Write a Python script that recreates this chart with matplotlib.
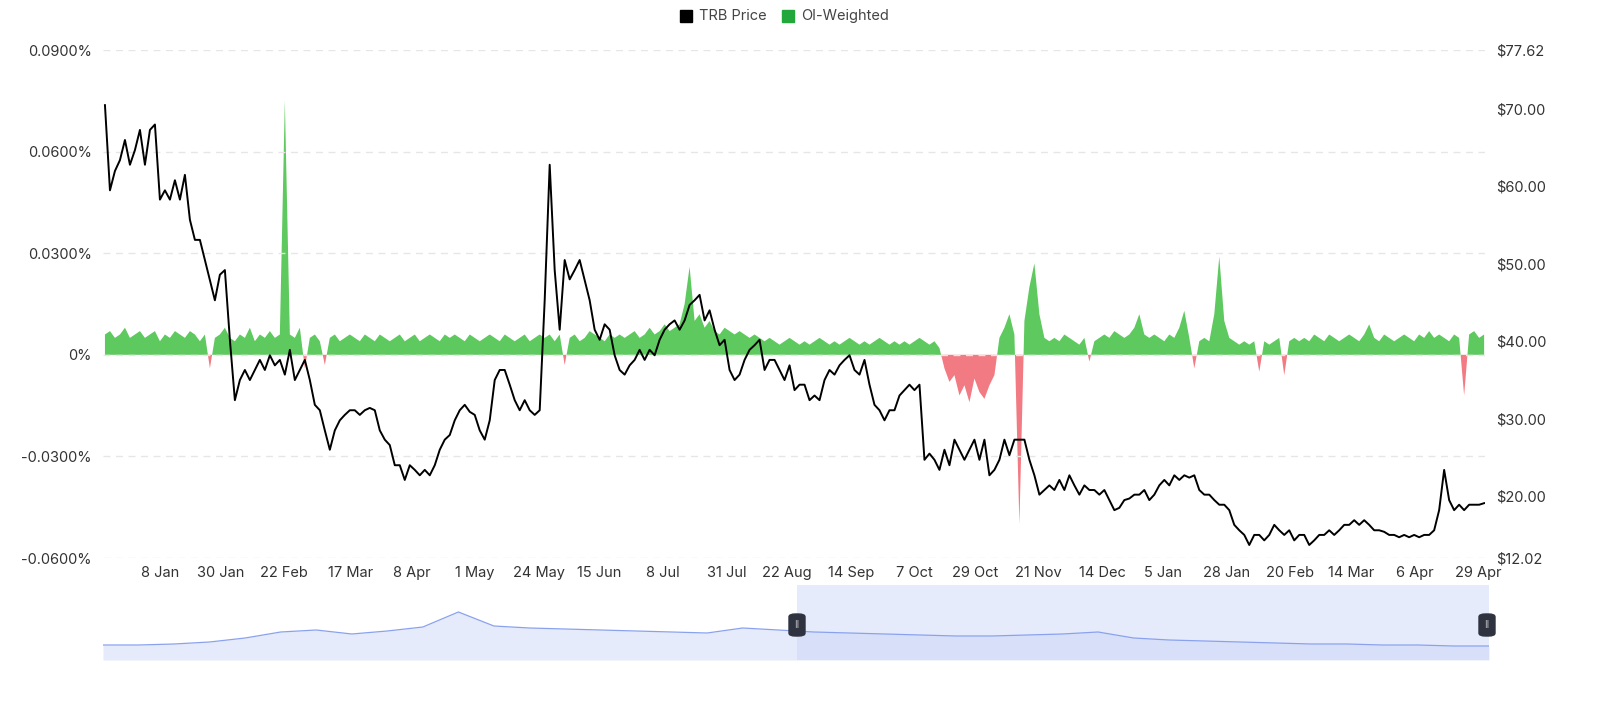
import numpy as np
import pandas as pd
from matplotlib import pyplot as plt
from matplotlib.patches import FancyBboxPatch, Rectangle
import matplotlib.ticker as mticker

# TRB price, sampled every ~1.8 days from mid Dec 2023
price = [
    70.5, 59.5, 62, 63.4, 66, 62.8, 64.7, 67.3, 62.8, 67.3,
    68, 58.3, 59.5, 58.3, 60.8, 58.3, 61.5, 55.7, 53.1, 53.1,
    50.5, 47.9, 45.3, 48.6, 49.2, 40.2, 32.4, 35, 36.3, 35,
    36.3, 37.6, 36.3, 38.2, 36.9, 37.6, 35.7, 38.9, 35, 36.3,
    37.6, 35, 31.8, 31.1, 28.5, 26, 28.5, 29.8, 30.5, 31.1,
    31.1, 30.5, 31.1, 31.4, 31.1, 28.5, 27.3, 26.6, 24, 24,
    22.1, 24, 23.4, 22.7, 23.4, 22.7, 24, 26, 27.3, 27.9,
    29.8, 31.1, 31.8, 30.9, 30.5, 28.5, 27.3, 29.8, 35, 36.3,
    36.3, 34.4, 32.4, 31.1, 32.4, 31.1, 30.5, 31.1, 45.3, 62.8,
    49.2, 41.5, 50.5, 48, 49.2, 50.5, 47.9, 45.3, 41.5, 40.2,
    42.2, 41.5, 38.2, 36.3, 35.7, 36.9, 37.6, 38.9, 37.6, 38.9,
    38.2, 40.2, 41.5, 42.2, 42.7, 41.5, 42.7, 44.7, 45.3, 46,
    42.7, 44, 41.5, 39.5, 40.2, 36.3, 35, 35.7, 37.6, 38.9,
    39.5, 40.2, 36.3, 37.6, 37.6, 36.3, 35, 36.9, 33.7, 34.4,
    34.4, 32.4, 33, 32.4, 35, 36.3, 35.7, 36.9, 37.6, 38.2,
    36.3, 35.7, 37.6, 34.4, 31.8, 31.1, 29.8, 31.1, 31.1, 33,
    33.7, 34.4, 33.7, 34.4, 24.7, 25.5, 24.7, 23.4, 26, 24,
    27.3, 26, 24.7, 26, 27.3, 24.7, 27.3, 22.7, 23.4, 24.7,
    27.3, 25.3, 27.3, 27.3, 27.3, 24.7, 22.7, 20.2, 20.8, 21.4,
    20.8, 22.1, 20.8, 22.7, 21.4, 20.2, 21.4, 20.8, 20.8, 20.2,
    20.8, 19.5, 18.2, 18.5, 19.5, 19.7, 20.2, 20.2, 20.8, 19.5,
    20.2, 21.4, 22.1, 21.4, 22.7, 22.1, 22.7, 22.4, 22.7, 20.8,
    20.2, 20.2, 19.5, 18.9, 18.9, 18.2, 16.3, 15.6, 15, 13.7,
    15, 15, 14.3, 15, 16.3, 15.6, 15, 15.6, 14.3, 15,
    15, 13.7, 14.3, 15, 15, 15.6, 15, 15.6, 16.3, 16.3,
    16.9, 16.3, 16.9, 16.3, 15.6, 15.6, 15.4, 15, 15, 14.7,
    15, 14.7, 15, 14.7, 15, 15, 15.6, 18.2, 23.4, 19.5,
    18.2, 18.9, 18.2, 18.9, 18.9, 18.9, 19.1,
]

# OI-weighted funding rate (%) on the same dates
funding = [
    0.006, 0.007, 0.005, 0.006, 0.008, 0.005, 0.006, 0.007, 0.005, 0.006,
    0.007, 0.004, 0.006, 0.005, 0.007, 0.006, 0.005, 0.007, 0.006, 0.004,
    0.006, -0.004, 0.005, 0.006, 0.008, 0.005, 0.004, 0.006, 0.005, 0.008,
    0.004, 0.006, 0.005, 0.007, 0.005, 0.006, 0.075, 0.006, 0.005, 0.008,
    -0.004, 0.005, 0.006, 0.004, -0.003, 0.005, 0.006, 0.004, 0.005, 0.006,
    0.005, 0.004, 0.006, 0.005, 0.004, 0.006, 0.005, 0.004, 0.005, 0.006,
    0.004, 0.005, 0.006, 0.004, 0.005, 0.006, 0.005, 0.004, 0.006, 0.005,
    0.006, 0.005, 0.004, 0.006, 0.005, 0.004, 0.005, 0.006, 0.005, 0.004,
    0.006, 0.005, 0.004, 0.005, 0.006, 0.004, 0.005, 0.006, 0.005, 0.006,
    0.004, 0.006, -0.003, 0.005, 0.006, 0.004, 0.005, 0.007, 0.006, 0.005,
    0.004, 0.006, 0.005, 0.006, 0.005, 0.006, 0.007, 0.005, 0.006, 0.008,
    0.006, 0.007, 0.009, 0.007, 0.008, 0.009, 0.015, 0.026, 0.010, 0.012,
    0.008, 0.010, 0.007, 0.006, 0.008, 0.007, 0.006, 0.007, 0.006, 0.005,
    0.006, 0.005, 0.004, 0.005, 0.004, 0.003, 0.004, 0.005, 0.004, 0.003,
    0.004, 0.003, 0.004, 0.005, 0.004, 0.003, 0.004, 0.003, 0.004, 0.005,
    0.004, 0.003, 0.004, 0.003, 0.004, 0.005, 0.004, 0.003, 0.004, 0.003,
    0.004, 0.003, 0.004, 0.005, 0.004, 0.003, 0.004, 0.002, -0.004, -0.008,
    -0.006, -0.012, -0.009, -0.014, -0.007, -0.011, -0.013, -0.009, -0.006, 0.005,
    0.008, 0.012, 0.006, -0.050, 0.010, 0.020, 0.027, 0.012, 0.005, 0.004,
    0.005, 0.004, 0.006, 0.005, 0.004, 0.003, 0.005, -0.002, 0.004, 0.005,
    0.006, 0.005, 0.007, 0.006, 0.005, 0.006, 0.008, 0.012, 0.006, 0.005,
    0.006, 0.005, 0.004, 0.006, 0.005, 0.008, 0.013, 0.005, -0.004, 0.004,
    0.005, 0.004, 0.012, 0.029, 0.010, 0.005, 0.004, 0.003, 0.004, 0.003,
    0.004, -0.005, 0.004, 0.003, 0.004, 0.005, -0.006, 0.004, 0.005, 0.004,
    0.005, 0.004, 0.006, 0.005, 0.004, 0.006, 0.005, 0.004, 0.005, 0.006,
    0.005, 0.004, 0.006, 0.009, 0.005, 0.004, 0.006, 0.005, 0.004, 0.005,
    0.006, 0.005, 0.004, 0.006, 0.005, 0.007, 0.005, 0.006, 0.005, 0.004,
    0.006, 0.005, -0.012, 0.006, 0.007, 0.005, 0.006,
]

# navigator overview series (full history)
nav_values = [15, 15, 16, 18, 22, 28, 30, 26, 29, 33, 48, 34, 32, 31, 30, 29, 28, 27, 32, 30,
              28, 27, 26, 25, 24, 24, 25, 26, 28, 22, 20, 19, 18, 17, 16, 16, 15, 15, 14, 14]

tick_labels = ["8 Jan", "30 Jan", "22 Feb", "17 Mar", "8 Apr", "1 May", "24 May", "15 Jun",
               "8 Jul", "31 Jul", "22 Aug", "14 Sep", "7 Oct", "29 Oct", "21 Nov", "14 Dec",
               "5 Jan", "28 Jan", "20 Feb", "14 Mar", "6 Apr", "29 Apr"]
tick_dates = ["2024-01-08", "2024-01-30", "2024-02-22", "2024-03-17", "2024-04-08", "2024-05-01",
              "2024-05-24", "2024-06-15", "2024-07-08", "2024-07-31", "2024-08-22", "2024-09-14",
              "2024-10-07", "2024-10-29", "2024-11-21", "2024-12-14", "2025-01-05", "2025-01-28",
              "2025-02-20", "2025-03-14", "2025-04-06", "2025-04-29"]

plt.rcParams["font.family"] = ["Inter", "DejaVu Sans"]

start = pd.Timestamp("2023-12-18 09:00")
end = pd.Timestamp("2025-05-01 12:00")
dates = pd.date_range(start + pd.Timedelta(hours=17), periods=len(price), freq="43.4h")
fund = np.array(funding)

fig = plt.figure(figsize=(16, 7.13), dpi=100)
W, H = 1600, 713
ax = fig.add_axes([103 / W, 1 - 558 / H, (1485 - 103) / W, (558 - 50) / H])
ax2 = ax.twinx()

green, red = "#5ec95e", "#f27a82"
ax.fill_between(dates, 0, fund, where=fund >= 0, interpolate=True, color=green, lw=0)
ax.fill_between(dates, 0, fund, where=fund <= 0, interpolate=True, color=red, lw=0)
ax.set_ylim(-0.06, 0.09)
ax.set_yticks([-0.06, -0.03, 0, 0.03, 0.06, 0.09])
ax.yaxis.set_major_formatter(mticker.FuncFormatter(lambda v, p: "0%" if abs(v) < 1e-9 else f"{v:.4f}%"))
ax.grid(axis="y", color="#e6e6e6", ls=(0, (5, 4)), lw=1)
ax.set_xlim(start, end)
ax.set_xticks(pd.to_datetime(tick_dates))
ax.set_xticklabels(tick_labels)

ax2.plot(dates, price, color="black", lw=1.4)
ax2.set_ylim(12.02, 77.62)
ax2.set_yticks([12.02, 20, 30, 40, 50, 60, 70, 77.62])
ax2.yaxis.set_major_formatter(mticker.FuncFormatter(lambda v, p: f"${v:.2f}"))

for a in (ax, ax2):
    for s in a.spines.values():
        s.set_visible(False)
    a.tick_params(length=0, labelsize=10.5, colors="#333333", pad=8)
ax.tick_params(axis="x", pad=6)

# legend
for x0, col, lab in [(680, "black", "TRB Price"), (782, "#22a83a", "OI-Weighted")]:
    fig.patches.append(Rectangle((x0 / W, 1 - 22 / H), 12 / W, 12 / H, color=col, transform=fig.transFigure))
    fig.text((x0 + 19) / W, 1 - 16 / H, lab, fontsize=10.5, color="#444444", va="center")

# navigator
nav = fig.add_axes([103 / W, 1 - 660 / H, (1489 - 103) / W, 75 / H])
nx = np.arange(len(nav_values))
nav.fill_between(nx, 0, nav_values, color="#e6ebfb", lw=0)
nav.plot(nx, nav_values, color="#8aa2ee", lw=0.9)
nav.set_xlim(0, len(nav_values) - 1)
nav.set_ylim(0, 75)
nav.axis("off")
sel0 = (797 - 103) / (1489 - 103) * (len(nav_values) - 1)
nav.axvspan(sel0, len(nav_values) - 1, color="#c9d4f8", alpha=0.45, lw=0)
for hx in (797, 1487):
    fig.patches.append(FancyBboxPatch(((hx - 8) / W, 1 - 636 / H), 16 / W, 22 / H,
                                      boxstyle="round,pad=0,rounding_size=0.004",
                                      color="#2f3340", transform=fig.transFigure))
    fig.text(hx / W, 1 - 625 / H, "II", color="#bbbbbb", fontsize=7, ha="center", va="center")

fig.savefig("out.png", dpi=100)
